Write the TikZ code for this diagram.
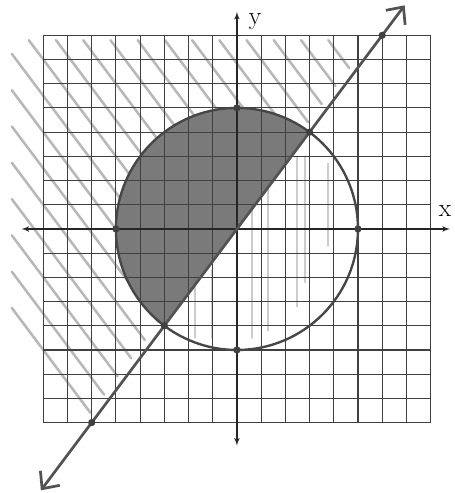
\documentclass[tikz,border=0pt]{standalone}
\usepackage{tikz}
\usetikzlibrary{arrows,arrows.meta,calc,positioning}

\begin{document}
\begin{tikzpicture}
  \tikzstyle{every path}=[line cap=round]
  \tikzstyle{gridline}=[black!75,line width=1.3pt]
  \tikzstyle{axis}=[black!85,line width=2pt,latex'-latex']
  \tikzstyle{curve}=[black!72,line width=2.8pt]
  \tikzstyle{boundary}=[black!68,line width=3.2pt,{Straight Barb[length=0.55cm,width=1cm]}-{Straight Barb[length=0.55cm,width=1cm]}]
  \tikzstyle{hatch}=[black!28,line width=3pt]
  \tikzstyle{vstroke}=[black!20,line width=2.6pt]
  \tikzstyle{pt}=[circle,fill=black!75,inner sep=0pt,minimum size=0.3cm]
  \tikzstyle{axlabel}=[font=\fontsize{30}{34}\selectfont,inner sep=0pt]

  \useasboundingbox (-9.79,-10.91) rectangle (8.97,9.46);

  %% hatching of the half plane above the line
  \foreach \c [count=\i] in {-47,-42.5,...,39} {
    \pgfmathsetmacro{\xs}{max((\c-23.4)/4,-9.3)}
    \pgfmathsetmacro{\ys}{(\c-4*\xs)/3}
    \coordinate (h\i a) at (\xs,\ys);
    \coordinate (h\i b) at (\c/8,\c/6);
    \draw [hatch,shorten >=0.3cm] (h\i a) -- (h\i b);
  }

  %% vertical strokes inside the circle, below the line
  \foreach \x/\yt/\yb [count=\i] in {-1.74/-2.3/-4.5,-1.03/-1.7/-4.5,0.62/0.8/-4.5,1.28/1.9/-4.2,2.48/3.0/-3.2,2.81/3.0/-2.2,3.76/2.7/-0.7} {
    \coordinate (v\i a) at (\x,\yt);
    \coordinate (v\i b) at (\x,\yb);
    \draw [vstroke] (v\i a) -- (v\i b);
  }

  %% overlap of both regions
  \fill [black!52] (3,4) arc[start angle=53.13,end angle=233.13,radius=5] -- cycle;

  %% grid and axes
  \draw [gridline] (-8,-8) grid (8,8);
  \coordinate (xl) at (-8.9,0);
  \coordinate (xr) at (8.8,0);
  \coordinate (yb) at (0,-8.95);
  \coordinate (yt) at (0,8.97);
  \draw [axis] (xl) -- (xr);
  \draw [axis] (yb) -- (yt);
  \node [axlabel] (xlab) at (8.6,0.75) {x};
  \node [axlabel] (ylab) at (0.75,8.55) {y};

  %% circle and line
  \draw [curve] (0,0) circle[radius=5];
  \coordinate (lo) at (-8.1,-10.8);
  \coordinate (hi) at (6.93,9.24);
  \draw [boundary] (lo) -- (hi);

  %% marked points
  \node [pt] (c1) at (0,5) {};
  \node [pt] (c2) at (-5,0) {};
  \node [pt] (c3) at (5,0) {};
  \node [pt] (c4) at (0,-5) {};
  \node [pt] (l1) at (6,8) {};
  \node [pt] (l2) at (3,4) {};
  \node [pt] (l3) at (-3,-4) {};
  \node [pt] (l4) at (-6,-8) {};
\end{tikzpicture}
\end{document}
